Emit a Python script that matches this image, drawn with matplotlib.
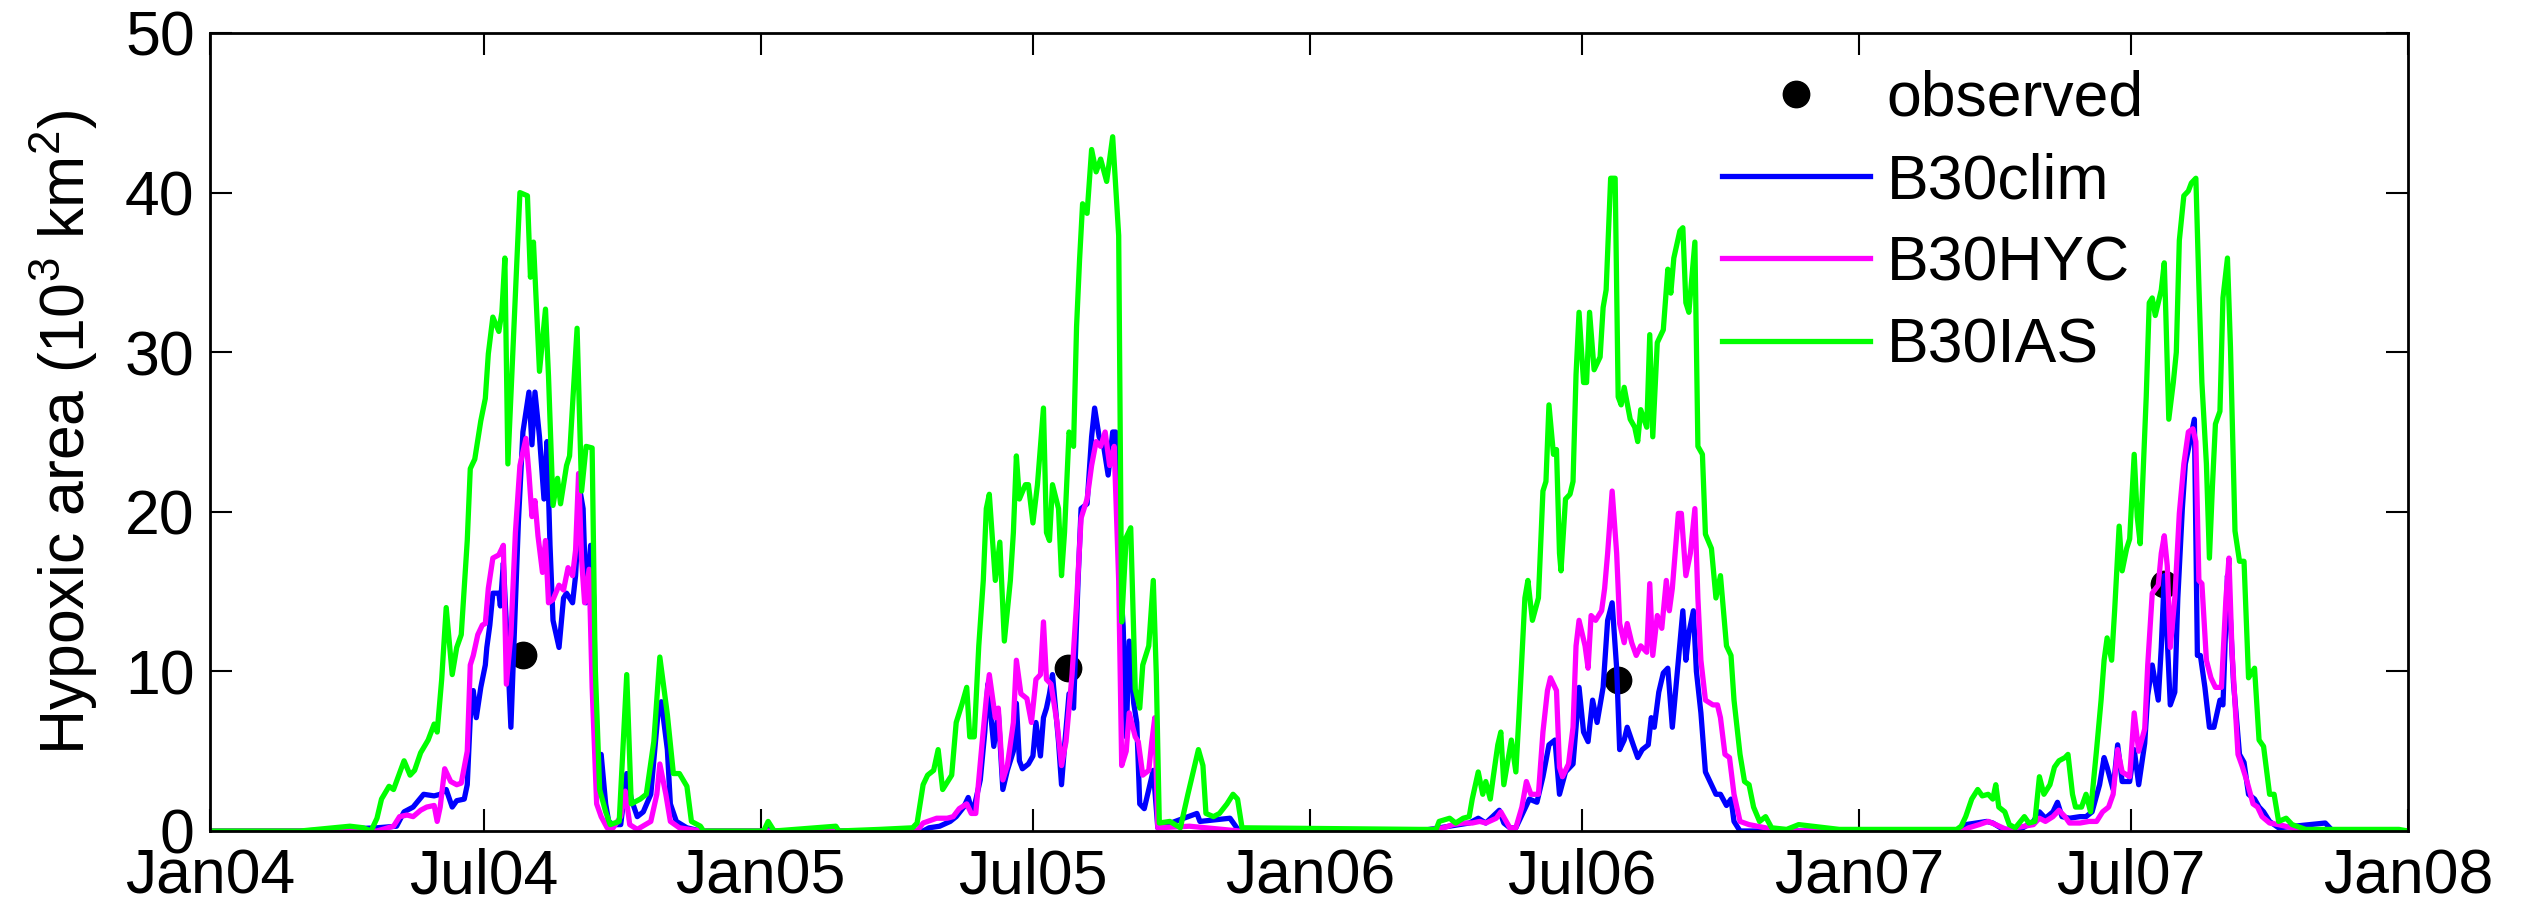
import datetime as dt

import matplotlib
matplotlib.use("Agg")
import matplotlib.pyplot as plt
import matplotlib.dates as mdates
from matplotlib.lines import Line2D

plt.rcParams["font.family"] = ["Liberation Sans", "DejaVu Sans"]
plt.rcParams["mathtext.fontset"] = "custom"
plt.rcParams["mathtext.rm"] = "Liberation Sans"
plt.rcParams["mathtext.it"] = "Liberation Sans:italic"
plt.rcParams["mathtext.bf"] = "Liberation Sans:bold"
plt.rcParams["mathtext.default"] = "rm"

# ---------------------------------------------------------------------------
# Hypoxic area (10^3 km^2) per model run; day-of-year (0 = Jan 1) per season
# ---------------------------------------------------------------------------
years = [2004, 2005, 2006, 2007]
series_names = ["B30clim", "B30HYC", "B30IAS"]
series_colors = ["#0000ff", "#ff00ff", "#00ff00"]

# observed shelf-wide survey estimates
obs_year = [2004, 2005, 2006, 2007]
obs_doy = [208, 204, 205, 203]
obs_area = [11.0, 10.2, 9.45, 15.5]

# ---- B30clim ----
clim_2004_doy = [60, 111, 124, 129, 135, 142, 149, 153, 157, 161, 164, 169, 171, 173, 175, 177, 180,
                 183, 184, 186, 188, 192, 193, 195, 197, 200, 202, 205, 208, 212, 214, 216, 219, 222,
                 224, 226, 228, 232, 235, 237, 241, 243, 246, 248, 250, 253, 255, 257, 260, 263, 265,
                 268, 273, 277, 280, 284, 288, 293, 298, 300, 304, 306, 310, 317, 326]
clim_2004 = [0, 0.2, 0.3, 1.2, 1.5, 2.3, 2.2, 2.3, 2.6, 1.5, 1.9, 2.0, 2.9, 7.1, 8.8, 7.1, 9.0,
             10.4, 11.5, 12.9, 14.9, 14.9, 14.1, 16.8, 12.9, 6.5, 11.7, 19.4, 25.0, 27.5, 24.2, 27.5, 24.7, 20.8,
             24.4, 17.9, 13.2, 11.5, 14.6, 14.9, 14.3, 16.0, 21.3, 20.2, 14.3, 17.9, 14.6, 3.9, 4.8, 1.7, 0.6,
             0.4, 0.4, 3.6, 2.0, 0.9, 1.2, 2.3, 7.6, 8.1, 5.1, 1.7, 0.6, 0.2, 0]
clim_2005_doy = [3, 5, 8, 79, 108, 112, 119, 126, 130, 135, 138, 141, 146, 149, 151, 155, 158, 161,
                 164, 168, 170, 172, 174, 178, 181, 183, 186, 188, 190, 192, 194, 198, 200, 202, 205,
                 208, 211, 213, 217, 220, 222, 225, 228, 231, 234, 236, 239, 241, 243, 245, 248, 250,
                 252, 255, 258, 261, 264, 290, 292, 312, 318]
clim_2005 = [0, 0.4, 0, 0, 0, 0.2, 0.3, 0.6, 0.9, 1.5, 2.1, 1.1, 3.2, 6.2, 9.2, 5.3, 7.4, 2.6,
             3.8, 5.0, 8.0, 4.4, 3.9, 4.2, 4.7, 6.8, 4.7, 7.1, 7.7, 8.6, 9.8, 5.6, 2.9, 5.3, 8.6,
             7.7, 15.7, 20.2, 20.5, 24.7, 26.5, 24.7, 24.1, 22.3, 25.0, 25.0, 15.7, 12.8, 5.9, 11.9, 8.0, 6.8,
             1.7, 1.4, 2.6, 3.8, 0.2, 1.1, 0.6, 0.8, 0]
clim_2006_doy = [73, 106, 112, 117, 126, 129, 133, 137, 142, 146, 151, 155, 159, 163, 166, 170, 175,
                 177, 179, 182, 185, 188, 191, 195, 198, 201, 204, 206, 209, 211, 215, 218, 221, 225,
                 227, 229, 232, 235, 238, 241, 245, 248, 250, 252, 255, 257, 260, 263, 267, 270, 273,
                 277, 280, 282, 286]
clim_2006 = [0, 0.5, 0.8, 0.5, 1.3, 0.5, 0.2, 0.2, 1.2, 2.0, 1.8, 3.4, 5.4, 5.7, 2.3, 3.7, 4.2,
             6.5, 9.0, 6.2, 5.6, 8.2, 6.8, 9.0, 13.2, 14.3, 10.2, 5.1, 5.7, 6.5, 5.4, 4.6, 5.1, 5.4,
             7.1, 6.5, 8.7, 9.9, 10.2, 6.5, 10.7, 13.8, 10.7, 12.4, 13.8, 10.0, 7.4, 3.7, 2.9, 2.3, 2.3,
             1.6, 2.0, 0.6, 0]
clim_2007_doy = [27, 65, 71, 78, 85, 89, 96, 102, 109, 116, 120, 124, 129, 132, 135, 140, 147, 151,
                 155, 160, 163, 165, 169, 172, 175, 180, 183, 186, 190, 192, 195, 199, 201, 203, 205,
                 207, 210, 212, 215, 217, 220, 223, 225, 227, 230, 233, 236, 240, 242, 245, 247, 249,
                 253, 256, 259, 263, 266, 269, 273, 279, 310, 315]
clim_2007 = [0, 0, 0.4, 0.5, 0.6, 0.5, 0.1, 0.1, 0.2, 0.6, 1.2, 0.8, 1.2, 1.8, 0.9, 0.8, 0.9, 0.9,
             1.2, 2.9, 4.6, 4.0, 2.6, 5.4, 3.1, 3.1, 5.1, 2.9, 5.5, 8.5, 10.4, 8.2, 11.5, 16.0, 11.9,
             7.9, 8.7, 14.6, 20.2, 23.0, 24.4, 25.8, 11.0, 11.0, 9.0, 6.5, 6.5, 8.2, 7.9, 16.0, 13.2, 9.3,
             4.8, 4.3, 2.3, 2.0, 1.5, 1.2, 0.6, 0.2, 0.5, 0]

# ---- B30HYC ----
hyc_2004_doy = [60, 111, 122, 126, 131, 135, 140, 144, 149, 151, 153, 156, 160, 164, 167, 171, 173,
                175, 178, 181, 183, 185, 188, 192, 195, 197, 200, 203, 206, 210, 212, 214, 216, 218,
                221, 223, 225, 228, 232, 235, 238, 241, 243, 245, 247, 249, 252, 254, 257, 260, 264,
                268, 273, 276, 279, 284, 293, 297, 299, 303, 306, 312, 326]
hyc_2004 = [0, 0, 0.3, 0.9, 1.0, 0.9, 1.3, 1.5, 1.6, 0.6, 1.5, 3.9, 3.1, 2.9, 3.0, 5.0, 10.4,
            11.0, 12.3, 12.9, 13.0, 15.2, 17.1, 17.3, 17.9, 9.2, 12.3, 18.7, 22.9, 24.6, 22.4, 19.7, 20.7, 18.5,
            16.2, 18.2, 14.3, 14.5, 15.4, 15.1, 16.5, 16.0, 17.6, 22.4, 17.0, 14.3, 16.4, 9.0, 1.7, 0.9, 0.2,
            0.2, 0.9, 2.5, 0.4, 0.1, 0.6, 2.3, 4.2, 2.3, 0.6, 0.2, 0]
hyc_2005_doy = [79, 104, 108, 117, 124, 128, 132, 137, 140, 143, 147, 150, 152, 156, 158, 161, 164,
                168, 170, 173, 177, 180, 183, 186, 188, 190, 193, 197, 200, 203, 207, 210, 213, 217,
                220, 223, 226, 229, 232, 235, 238, 240, 243, 245, 249, 251, 254, 258, 260, 262, 264,
                285, 318]
hyc_2005 = [0, 0, 0.5, 0.8, 0.8, 0.9, 1.4, 1.7, 1.1, 1.1, 5.3, 8.3, 9.8, 7.1, 7.7, 3.2, 4.1,
            6.8, 10.7, 8.6, 8.3, 6.8, 9.5, 9.8, 13.1, 9.5, 9.2, 6.8, 4.1, 5.6, 9.8, 14.3, 19.6, 20.8,
            22.9, 24.4, 24.1, 25.0, 22.9, 24.1, 15.7, 4.1, 5.0, 7.4, 5.9, 5.6, 3.5, 3.8, 5.6, 7.1, 0.2,
            0.3, 0]
hyc_2006_doy = [73, 89, 95, 102, 108, 113, 117, 124, 127, 133, 137, 141, 144, 147, 152, 155, 158,
                160, 164, 166, 168, 172, 175, 177, 179, 183, 185, 187, 190, 194, 196, 198, 201, 204,
                206, 209, 211, 214, 217, 220, 224, 226, 228, 231, 234, 237, 239, 241, 245, 247, 250,
                253, 256, 258, 260, 263, 268, 271, 273, 276, 279, 282, 286, 292, 303, 308]
hyc_2006 = [0, 0.2, 0.4, 0.5, 0.5, 0.6, 0.5, 0.8, 1.2, 0.2, 0.2, 1.5, 3.1, 2.3, 2.3, 6.2, 8.8,
            9.6, 8.8, 4.0, 3.4, 4.2, 6.5, 11.6, 13.2, 11.6, 10.2, 13.5, 13.2, 13.8, 15.2, 17.4, 21.3, 17.4,
            13.0, 11.8, 13.0, 11.8, 11.0, 11.6, 11.2, 15.5, 11.0, 13.5, 12.7, 15.7, 13.8, 15.2, 19.9, 19.9, 16.0,
            17.4, 20.2, 14.6, 10.7, 8.2, 7.9, 7.9, 7.1, 4.8, 4.6, 2.3, 0.6, 0.4, 0.2, 0]
hyc_2007_doy = [27, 69, 73, 80, 86, 91, 98, 116, 120, 124, 129, 133, 137, 140, 147, 153, 158, 162,
                166, 169, 172, 175, 180, 183, 186, 190, 192, 195, 199, 201, 203, 205, 207, 210, 213,
                216, 219, 222, 224, 226, 228, 231, 234, 237, 241, 244, 246, 248, 252, 255, 258, 262,
                265, 268, 273, 279, 288, 293]
hyc_2007 = [0, 0, 0.2, 0.4, 0.6, 0.4, 0.1, 0.4, 0.8, 0.6, 0.9, 1.3, 0.9, 0.5, 0.5, 0.6, 0.6, 1.2,
            1.5, 2.3, 5.1, 3.7, 3.4, 7.4, 5.0, 6.4, 10.4, 14.9, 15.4, 17.4, 18.5, 16.6, 11.5, 14.6, 19.9,
            23.0, 25.0, 25.2, 24.4, 15.7, 15.5, 10.7, 9.6, 9.0, 9.0, 14.6, 17.1, 11.3, 4.8, 4.0, 3.1, 1.7,
            1.5, 0.9, 0.5, 0.4, 0.2, 0]

# ---- B30IAS ----
ias_2004_doy = [60, 93, 102, 107, 111, 114, 119, 122, 129, 133, 136, 140, 145, 149, 151, 154, 157,
                161, 164, 167, 171, 173, 176, 180, 183, 185, 188, 192, 194, 196, 198, 202, 206, 211,
                213, 215, 219, 223, 225, 228, 231, 233, 237, 239, 244, 247, 250, 254, 256, 259, 263,
                266, 272, 277, 280, 286, 290, 295, 299, 304, 308, 312, 317, 320, 326, 328]
ias_2004 = [0, 0.3, 0.2, 0, 0.8, 2.0, 2.8, 2.6, 4.4, 3.5, 3.8, 4.9, 5.7, 6.7, 6.2, 9.5, 14.0,
            9.8, 11.5, 12.3, 18.2, 22.7, 23.3, 25.7, 27.1, 29.9, 32.2, 31.3, 32.5, 35.9, 23.0, 31.5, 40.0, 39.8,
            34.7, 36.9, 28.8, 32.7, 28.5, 20.4, 22.1, 20.5, 22.9, 23.5, 31.5, 21.3, 24.1, 24.0, 10.4, 2.6, 1.2,
            0.4, 0.6, 9.8, 1.7, 2.0, 2.3, 5.6, 10.9, 7.3, 3.6, 3.6, 2.8, 0.6, 0.3, 0]
ias_2005_doy = [2, 5, 9, 50, 52, 79, 101, 104, 108, 111, 115, 118, 121, 125, 127, 130, 134, 137, 139,
                142, 145, 148, 150, 152, 156, 159, 162, 166, 168, 170, 172, 176, 178, 181, 184, 188,
                190, 192, 194, 198, 200, 202, 205, 208, 210, 212, 214, 217, 220, 223, 226, 230, 234,
                238, 240, 243, 246, 249, 252, 254, 258, 261, 263, 265, 272, 279, 284, 287, 291, 294,
                296, 301, 305, 310, 314, 317, 320]
ias_2005 = [0, 0.6, 0, 0.3, 0, 0.1, 0.2, 0.5, 2.9, 3.5, 3.8, 5.1, 2.6, 3.2, 3.5, 6.8, 8.0, 9.0, 5.9,
            5.9, 11.6, 15.7, 20.2, 21.1, 15.7, 18.1, 11.9, 15.7, 18.7, 23.5, 20.8, 21.7, 21.7, 19.3, 21.7, 26.5,
            18.7, 18.2, 21.7, 20.2, 16.0, 18.7, 25.0, 24.1, 31.6, 35.8, 39.3, 38.7, 42.7, 41.3, 42.1, 40.7, 43.5,
            37.3, 13.1, 18.4, 19.0, 8.9, 7.7, 10.4, 11.6, 15.7, 9.8, 0.5, 0.6, 0.2, 2.3, 3.5, 5.1, 4.1,
            1.1, 0.9, 1.1, 1.7, 2.3, 2.0, 0.2]
ias_2006_doy = [73, 84, 86, 93, 97, 102, 106, 108, 112, 115, 117, 120, 122, 125, 127, 129, 132, 134,
                137, 139, 143, 145, 148, 152, 155, 157, 159, 162, 164, 166, 167, 170, 173, 175, 177,
                179, 182, 184, 186, 189, 193, 195, 197, 200, 203, 205, 207, 209, 213, 216, 218, 220,
                224, 226, 228, 231, 235, 238, 240, 242, 246, 248, 250, 252, 256, 258, 261, 263, 267,
                270, 273, 277, 280, 282, 286, 289, 292, 295, 299, 303, 307, 317, 325, 352]
ias_2006 = [0.1, 0.1, 0.6, 0.8, 0.5, 0.8, 0.9, 2.0, 3.7, 2.3, 3.1, 2.0, 3.4, 5.4, 6.2, 2.9, 4.6, 5.7,
            3.7, 7.1, 14.6, 15.7, 13.2, 14.6, 21.3, 21.9, 26.7, 23.6, 23.9, 17.4, 16.3, 20.8, 21.1, 21.9, 28.6,
            32.5, 28.1, 28.1, 32.5, 28.9, 29.7, 32.8, 33.9, 40.9, 40.9, 27.2, 26.7, 27.8, 25.8, 25.3, 24.4, 26.4,
            25.3, 31.1, 24.7, 30.6, 31.4, 35.2, 33.7, 35.9, 37.6, 37.8, 33.1, 32.5, 36.9, 24.1, 23.6, 18.6, 17.7,
            14.6, 16.0, 11.6, 11.0, 8.2, 4.8, 3.1, 2.9, 1.5, 0.6, 0.9, 0.2, 0.1, 0.4, 0.1]
ias_2007_doy = [27, 65, 68, 71, 75, 79, 82, 86, 89, 91, 93, 97, 100, 104, 110, 113, 117, 120, 123,
                127, 130, 133, 137, 139, 142, 144, 148, 151, 154, 158, 161, 163, 165, 168, 170, 173,
                175, 178, 180, 183, 185, 187, 191, 193, 195, 197, 201, 203, 204, 206, 209, 211, 213,
                216, 219, 221, 224, 226, 228, 231, 233, 235, 237, 240, 242, 245, 247, 250, 253, 256,
                259, 263, 266, 269, 273, 276, 279, 284, 288, 297, 359]
ias_2007 = [0.1, 0.1, 0.3, 0.9, 2.0, 2.6, 2.2, 2.3, 2.0, 2.9, 1.5, 1.2, 0.4, 0.2, 0.9, 0.5, 0.6, 3.4, 2.3,
            2.9, 4.0, 4.4, 4.6, 4.8, 2.3, 1.5, 1.5, 2.3, 1.2, 5.1, 8.2, 10.7, 12.1, 10.7, 13.8, 19.1,
            16.3, 17.7, 18.3, 23.6, 19.7, 18.0, 27.2, 33.1, 33.4, 32.3, 33.9, 35.6, 32.5, 25.8, 28.1, 30.0, 37.0,
            39.8, 40.1, 40.6, 40.9, 34.2, 28.1, 23.0, 17.1, 21.6, 25.5, 26.3, 33.4, 35.9, 30.3, 18.8, 16.9, 16.9,
            9.6, 10.2, 5.7, 5.3, 2.3, 2.3, 0.6, 0.8, 0.4, 0.1, 0.1]

season_doys = {
    "B30clim": [clim_2004_doy, clim_2005_doy, clim_2006_doy, clim_2007_doy],
    "B30HYC": [hyc_2004_doy, hyc_2005_doy, hyc_2006_doy, hyc_2007_doy],
    "B30IAS": [ias_2004_doy, ias_2005_doy, ias_2006_doy, ias_2007_doy],
}
season_vals = {
    "B30clim": [clim_2004, clim_2005, clim_2006, clim_2007],
    "B30HYC": [hyc_2004, hyc_2005, hyc_2006, hyc_2007],
    "B30IAS": [ias_2004, ias_2005, ias_2006, ias_2007],
}

x_tick_dates = [dt.datetime(2004, 1, 1), dt.datetime(2004, 7, 1), dt.datetime(2005, 1, 1),
                dt.datetime(2005, 7, 1), dt.datetime(2006, 1, 1), dt.datetime(2006, 7, 1),
                dt.datetime(2007, 1, 1), dt.datetime(2007, 7, 1), dt.datetime(2008, 1, 1)]
y_ticks = [0, 10, 20, 30, 40, 50]


def doy_to_date(year, doy):
    return dt.datetime(year, 1, 1) + dt.timedelta(days=doy)


def build_series(name):
    t = [dt.datetime(2004, 1, 1)]
    v = [0.0]
    for yr, doys, vals in zip(years, season_doys[name], season_vals[name]):
        t += [doy_to_date(yr, d) for d in doys]
        v += list(vals)
    t.append(dt.datetime(2008, 1, 1))
    v.append(0.0)
    return t, v


W, H, DPI = 2531, 908, 100
fig = plt.figure(figsize=(W / DPI, H / DPI), dpi=DPI)
ax = fig.add_axes([210 / W, 1 - 831 / H, (2408 - 210) / W, (831 - 33) / H])

FS = 45
LW = 3.8
MS = 19

obs_dates = [doy_to_date(y, d) for y, d in zip(obs_year, obs_doy)]
ax.plot(obs_dates, obs_area, linestyle="none", marker="o", ms=MS,
        color="black", zorder=1)
for name, col in zip(series_names, series_colors):
    t, v = build_series(name)
    ax.plot(t, v, color=col, lw=LW, zorder=2, solid_joinstyle="round")

ax.set_xlim(dt.datetime(2004, 1, 1), dt.datetime(2008, 1, 1))
ax.set_ylim(0, 50)
ax.set_xticks(x_tick_dates)
ax.xaxis.set_major_formatter(mdates.DateFormatter("%b%y"))
ax.set_yticks(y_ticks)

for s in ax.spines.values():
    s.set_linewidth(2.0)
ax.tick_params(axis="both", which="major", direction="in", length=15.5, width=1.5,
               top=True, right=True, labelsize=FS)
ax.tick_params(axis="x", pad=12)
ax.tick_params(axis="y", pad=11)

ax.set_ylabel(r"Hypoxic area (10$^3$ km$^2$)", fontsize=FS)
ax.yaxis.set_label_coords(-0.050, 0.5)

handles = [Line2D([], [], linestyle="none", marker="o", ms=MS, color="black")]
handles += [Line2D([], [], color=c, lw=LW) for c in series_colors]
ax.legend(handles, ["observed"] + series_names, loc="upper left",
          bbox_to_anchor=(1722 / W, 1 - 70 / H), bbox_transform=fig.transFigure,
          frameon=False, fontsize=FS, handlelength=2.37, handletextpad=0.26,
          labelspacing=0.37, borderpad=0, borderaxespad=0, numpoints=1)

fig.savefig("out.png", dpi=DPI)
